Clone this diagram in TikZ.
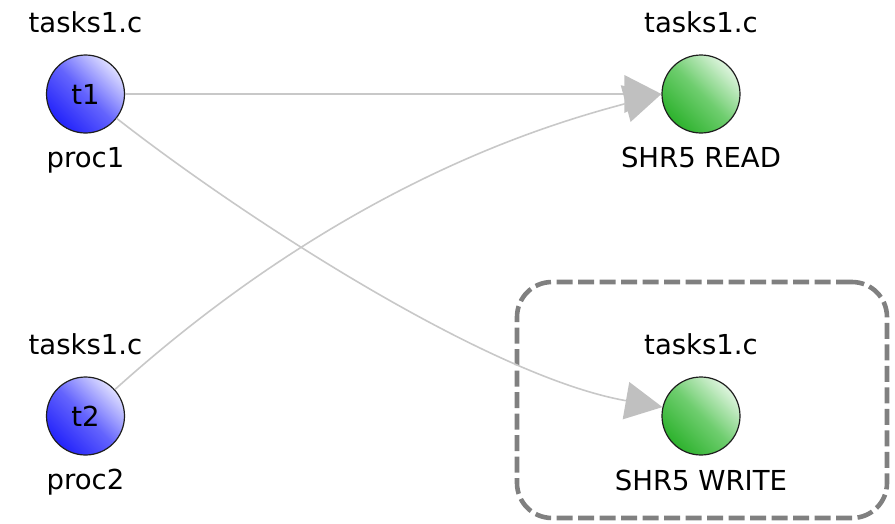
\documentclass[tikz,border=0pt]{standalone}
\usepackage{fontspec}
\setmainfont{DejaVu Sans}
\usetikzlibrary{arrows.meta,calc}
\definecolor{edgegray}{RGB}{200,200,200}
\definecolor{tipgray}{RGB}{192,192,192}
\definecolor{boxgray}{RGB}{128,128,128}
\definecolor{rimgray}{RGB}{30,30,30}
\definecolor{bluedark}{RGB}{35,35,250}
\definecolor{bluemid}{RGB}{100,100,253}
\definecolor{bluelight}{RGB}{222,222,255}
\definecolor{greendark}{RGB}{45,178,45}
\definecolor{greenmid}{RGB}{110,205,110}
\definecolor{greenlight}{RGB}{222,244,222}

\begin{document}
\begin{tikzpicture}[x=1pt,y=1pt,
  font=\fontsize{27.5}{32}\selectfont,
  vertex/.style={circle, draw=rimgray, line width=1.2pt, minimum size=78pt, inner sep=0pt},
  proc/.style={vertex, top color=bluelight, bottom color=bluedark, middle color=bluemid, shading angle=-45},
  res/.style={vertex, top color=greenlight, bottom color=greendark, middle color=greenmid, shading angle=-45},
  lab/.style={anchor=base, inner sep=0pt},
  edge/.style={draw=edgegray, line width=1.6pt,
    -{Triangle[length=37pt,width=38pt,color=tipgray,line width=0pt]}},
  groupbox/.style={draw=boxgray, line width=4.6pt, dash pattern=on 16pt off 5.5pt,
    rounded corners=35pt, minimum width=370pt, minimum height=236pt, inner sep=0pt},
]
\useasboundingbox (0,0) rectangle (895,-523);

% group frame around the write resource
\node[groupbox] (grp) at (702,-400) {};

% processes
\node[proc] (t1) at (85.5,-94) {t1};
\node[proc] (t2) at (85.5,-416) {t2};
% shared resources
\node[res] (r) at (701,-94) {};
\node[res] (w) at (701,-416) {};

% file and name labels
\node[lab] (t1file) at ($(t1)+(0,62)$) {tasks1.c};
\node[lab] (t1name) at ($(t1)+(0,-73)$) {proc1};
\node[lab] (t2file) at ($(t2)+(0,62)$) {tasks1.c};
\node[lab] (t2name) at ($(t2)+(0,-73)$) {proc2};
\node[lab] (rfile) at ($(r)+(0,62)$) {tasks1.c};
\node[lab] (rname) at ($(r)+(0,-73)$) {SHR5 READ};
\node[lab] (wfile) at ($(w)+(0,62)$) {tasks1.c};
\node[lab] (wname) at ($(w)+(0,-74)$) {SHR5 WRITE};

% accesses
\draw[edge] (t1) -- (r);
\draw[edge] (t1) to[out=-38, in=170, out distance=165pt, in distance=175pt] (w.167);
\draw[edge] (t2) to[out=42, in=195, out distance=310pt, in distance=115pt] (r.west);
\end{tikzpicture}
\end{document}
